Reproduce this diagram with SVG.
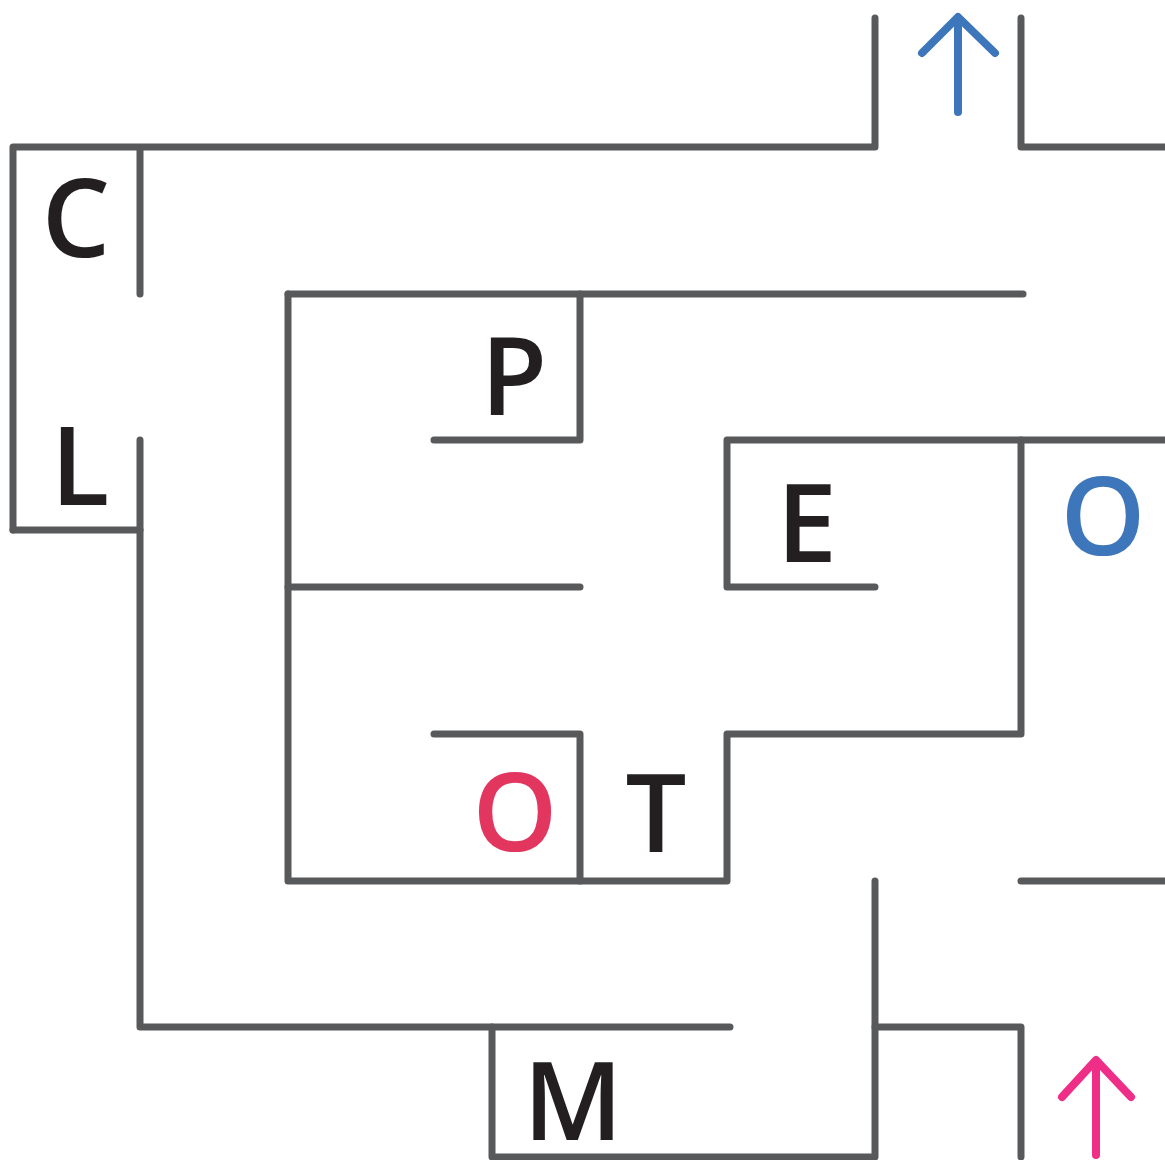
<svg xmlns="http://www.w3.org/2000/svg" width="1165" height="1160" viewBox="0 0 1165 1160">
<style>
.w{fill:none;stroke:#58595b;stroke-width:7;stroke-linecap:round;stroke-linejoin:round}
.t{font-family:"Open Sans","Liberation Sans",sans-serif;font-weight:600;font-size:108px;text-anchor:middle}
.k{fill:#231f20}
.a{fill:none;stroke-width:8;stroke-linecap:round;stroke-linejoin:round}
</style>
<rect width="1165" height="1160" fill="#fff"/>
<g id="walls">
<polyline class="w" points="13,530 13,147 875,147 875,18"/>
<polyline class="w" points="1021,18 1021,147 1168,147"/>
<line class="w" x1="140" y1="150" x2="140" y2="294"/>
<line class="w" x1="13" y1="530" x2="140" y2="530"/>
<polyline class="w" points="140,440 140,1027 730,1027"/>
<line class="w" x1="288" y1="294" x2="1023" y2="294"/>
<polyline class="w" points="288,294 288,881 727,881 727,734 1021,734 1021,440"/>
<polyline class="w" points="580,294 580,440 434,440"/>
<polyline class="w" points="875,587 727,587 727,440 1168,440"/>
<line class="w" x1="288" y1="587" x2="580" y2="587"/>
<polyline class="w" points="434,734 580,734 580,881"/>
<polyline class="w" points="875,881 875,1157 492,1157 492,1027"/>
<polyline class="w" points="875,1027 1021,1027 1021,1157"/>
<line class="w" x1="1021" y1="881" x2="1168" y2="881"/>
</g>
<g id="arrow-blue">
<polyline class="a" stroke="#3d76bb" points="922,53 958,17 995,53"/>
<line class="a" stroke="#3d76bb" x1="958" y1="18" x2="958" y2="112"/>
</g>
<g id="arrow-pink">
<polyline class="a" stroke="#ef2f87" points="1062,1097 1096,1060 1131,1097"/>
<line class="a" stroke="#ef2f87" x1="1096" y1="1062" x2="1096" y2="1155"/>
</g>
<g id="letters">
<text class="t k" x="76" y="257">C</text>
<text class="t k" x="80" y="505">L</text>
<text class="t k" x="514" y="415">P</text>
<text class="t k" x="807" y="562">E</text>
<text class="t" fill="#3d76bb" x="1103" y="555">O</text>
<text class="t" fill="#e2365f" x="515" y="851">O</text>
<text class="t k" x="656" y="852">T</text>
<text class="t k" x="573" y="1140">M</text>
</g>
</svg>
